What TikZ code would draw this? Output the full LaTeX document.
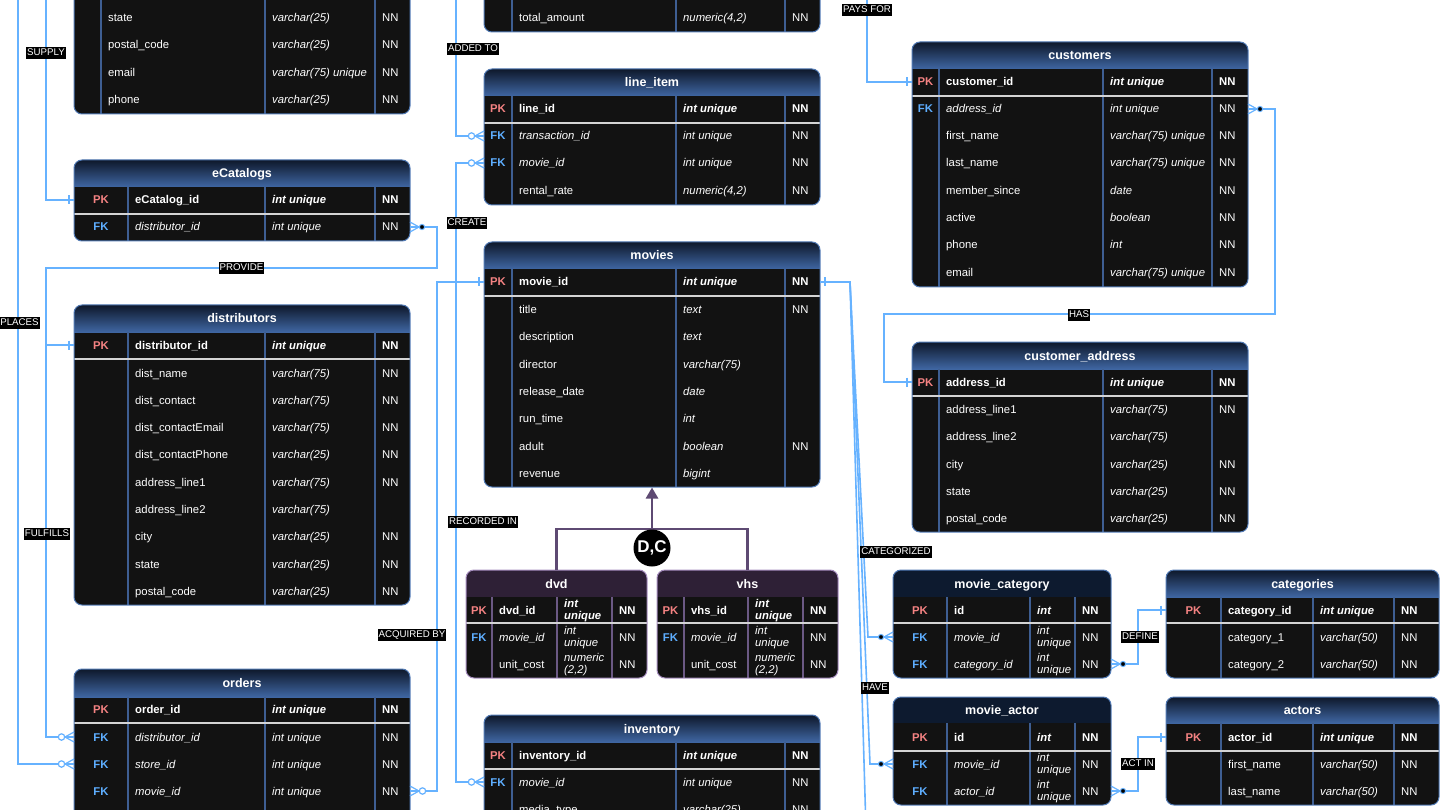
\documentclass[tikz,border=0pt]{standalone}
\usepackage{fontspec}
\setmainfont{Liberation Sans}
\usetikzlibrary{fit,arrows.meta}
\definecolor{connblue}{HTML}{66B2FF}
\definecolor{bodyfill}{HTML}{121212}
\definecolor{bordblue}{HTML}{5079B4}
\definecolor{divblue}{HTML}{3E5E92}
\definecolor{hdrtop}{HTML}{0E182B}
\definecolor{hdrbot}{HTML}{3F66A2}
\definecolor{navyhdr}{HTML}{0D1A2F}
\definecolor{purphdr}{HTML}{2E2036}
\definecolor{bordpurp}{HTML}{A58CBE}
\definecolor{divpurp}{HTML}{6B5984}
\definecolor{pkred}{HTML}{F48282}
\definecolor{fkblue}{HTML}{5EAEFF}
\definecolor{purpline}{HTML}{5E4A73}
\definecolor{sepgray}{HTML}{D4D4D4}

\newcommand\cellfont{\fontsize{11.3}{13}\selectfont}
\newcommand\two[2]{\smash{\renewcommand\arraystretch{0.85}\begin{tabular}[c]{@{}l@{}}#1\\#2\end{tabular}}}

\newcommand\ertable[8]{%
  \begin{scope}
    \clip[rounded corners=8pt] (#2,#3) rectangle (#4,#5);
    \fill[bodyfill] (#2,#3) rectangle (#4,#5);
    \path[hdr] (#2,#3) rectangle (#4,#6);
    \draw[divl] (\dA,#6) -- (\dA,#5) (\dB,#6) -- (\dB,#5) (\dC,#6) -- (\dC,#5);
    \draw[sepl] (#2,#7) -- (#4,#7);
  \end{scope}
  \node[fit={(#2,#3) (#4,#5)}, inner sep=0pt, bord, rounded corners=8pt] (#1) {};
  \node[ttl] (#1-title) at ({(#2+#4)/2},{(#3+#6)/2}) {#8};
  \gdef\tL{#2}\gdef\tR{#4}%
}
\newcommand\pkrow[6]{%
  \coordinate (#1-#2-L) at (\tL,#3);
  \coordinate (#1-#2-R) at (\tR,#3);
  \node[keycell, text=pkred] (#1-#2-k) at ({(\tL+\dA)/2},#3) {PK};
  \node[cell, font=\cellfont\bfseries] (#1-#2-n) at ({\dA+7},#3) {#4};
  \node[cell, font=\cellfont\bfseries\itshape] (#1-#2-t) at ({\dB+7},#3) {#5};
  \node[cell, font=\cellfont\bfseries] (#1-#2-c) at ({\dC+7},#3) {#6};
}
\newcommand\fkrow[6]{%
  \coordinate (#1-#2-L) at (\tL,#3);
  \coordinate (#1-#2-R) at (\tR,#3);
  \node[keycell, text=fkblue] (#1-#2-k) at ({(\tL+\dA)/2},#3) {FK};
  \node[cell, font=\cellfont\itshape] (#1-#2-n) at ({\dA+7},#3) {#4};
  \node[cell, font=\cellfont\itshape] (#1-#2-t) at ({\dB+7},#3) {#5};
  \node[cell] (#1-#2-c) at ({\dC+7},#3) {#6};
}
\newcommand\plrow[6]{%
  \coordinate (#1-#2-L) at (\tL,#3);
  \coordinate (#1-#2-R) at (\tR,#3);
  \node[cell] (#1-#2-n) at ({\dA+7},#3) {#4};
  \node[cell, font=\cellfont\itshape] (#1-#2-t) at ({\dB+7},#3) {#5};
  \node[cell] (#1-#2-c) at ({\dC+7},#3) {#6};
}
\newcommand\markone[2]{%
  \begin{scope}[shift={(#1)}, xscale=#2]
    \draw[conn, line width=1.2pt] (-5,-4.5) -- (-5,4.5);
  \end{scope}}
\newcommand\markzm[2]{%
  \begin{scope}[shift={(#1)}, xscale=#2]
    \draw[conn, line width=1.2pt] (0,-5) -- (-9,0) -- (0,5);
    \draw[conn, line width=1.2pt, fill=white] (-12.5,0) circle[radius=3.2];
  \end{scope}}
\newcommand\markdm[2]{%
  \begin{scope}[shift={(#1)}, xscale=#2]
    \draw[conn, line width=1.2pt] (0,-5) -- (-9,0) -- (0,5);
    \draw[conn, line width=1pt, fill=black] (-12,0) circle[radius=2.6];
  \end{scope}}

\tikzset{
  conn/.style={draw=connblue, line width=1.6pt},
  lbl/.style={fill=black, text=white, font=\fontsize{9.7}{10}\selectfont, inner xsep=1pt, inner ysep=1.5pt, text height=7pt, text depth=2pt},
  cell/.style={anchor=west, inner sep=0pt, text=white, text height=8pt, text depth=0pt, font=\cellfont},
  keycell/.style={inner sep=0pt, text height=8pt, text depth=0pt, font=\cellfont\bfseries},
  ttl/.style={text=white, font=\fontsize{12.5}{14}\selectfont\bfseries, inner sep=0pt, text height=9pt, text depth=0pt},
  hdr/.style={top color=hdrtop, bottom color=hdrbot},
  bord/.style={draw=bordblue, line width=1pt},
  divl/.style={draw=divblue, line width=1.1pt},
  sepl/.style={draw=sepgray, line width=1.2pt},
}

\begin{document}
\begin{tikzpicture}[x=1pt, y=-1pt]
\useasboundingbox (0,0) rectangle (1440,810);
\fill[white] (0,0) rectangle (1440,810);
\begin{scope}
\clip (0,0) rectangle (1440,810);

% ---------- blue tables ----------
\def\dA{101}\def\dB{265}\def\dC{375}
\ertable{stores}{74}{-80}{410}{114}{-53}{-23}{}
\plrow{sto}{state}{18}{state}{varchar(25)}{NN}
\plrow{sto}{postal}{45}{postal\_code}{varchar(25)}{NN}
\plrow{sto}{email}{73}{email}{varchar(75) unique}{NN}
\plrow{sto}{phone}{100}{phone}{varchar(25)}{NN}

\def\dA{128}\def\dB{265}\def\dC{375}
\ertable{ecat}{74}{160}{410}{241}{187}{214}{eCatalogs}
\pkrow{ecat}{pk}{200}{eCatalog\_id}{int unique}{NN}
\fkrow{ecat}{dist}{227}{distributor\_id}{int unique}{NN}

\ertable{dist}{74}{305}{410}{605}{332}{359}{distributors}
\pkrow{dist}{pk}{345}{distributor\_id}{int unique}{NN}
\plrow{dist}{r1}{373}{dist\_name}{varchar(75)}{NN}
\plrow{dist}{r2}{400}{dist\_contact}{varchar(75)}{NN}
\plrow{dist}{r3}{427}{dist\_contactEmail}{varchar(75)}{NN}
\plrow{dist}{r4}{454}{dist\_contactPhone}{varchar(25)}{NN}
\plrow{dist}{r5}{482}{address\_line1}{varchar(75)}{NN}
\plrow{dist}{r6}{509}{address\_line2}{varchar(75)}{}
\plrow{dist}{r7}{536}{city}{varchar(25)}{NN}
\plrow{dist}{r8}{564}{state}{varchar(25)}{NN}
\plrow{dist}{r9}{591}{postal\_code}{varchar(25)}{NN}

\ertable{orders}{74}{669}{410}{880}{697}{723}{orders}
\pkrow{ord}{pk}{709}{order\_id}{int unique}{NN}
\fkrow{ord}{dist}{737}{distributor\_id}{int unique}{NN}
\fkrow{ord}{store}{764}{store\_id}{int unique}{NN}
\fkrow{ord}{movie}{791}{movie\_id}{int unique}{NN}

\def\dA{512}\def\dB{676}\def\dC{785}
\ertable{trans}{484}{-80}{820}{32}{-53}{-23}{}
\plrow{trans}{total}{18}{total\_amount}{numeric(4,2)}{NN}

\ertable{lineitem}{484}{69}{820}{205}{96}{123}{line\_item}
\pkrow{li}{pk}{109}{line\_id}{int unique}{NN}
\fkrow{li}{trans}{136}{transaction\_id}{int unique}{NN}
\fkrow{li}{movie}{163}{movie\_id}{int unique}{NN}
\plrow{li}{rate}{191}{rental\_rate}{numeric(4,2)}{NN}

\ertable{movies}{484}{242}{820}{487}{269}{296}{movies}
\pkrow{mov}{pk}{282}{movie\_id}{int unique}{NN}
\plrow{mov}{r1}{309}{title}{text}{NN}
\plrow{mov}{r2}{336}{description}{text}{}
\plrow{mov}{r3}{364}{director}{varchar(75)}{}
\plrow{mov}{r4}{391}{release\_date}{date}{}
\plrow{mov}{r5}{418}{run\_time}{int}{}
\plrow{mov}{r6}{446}{adult}{boolean}{NN}
\plrow{mov}{r7}{473}{revenue}{bigint}{}

\ertable{inventory}{484}{715}{820}{880}{742}{769}{inventory}
\pkrow{inv}{pk}{755}{inventory\_id}{int unique}{NN}
\fkrow{inv}{movie}{782}{movie\_id}{int unique}{NN}
\plrow{inv}{media}{809}{media\_type}{varchar(25)}{NN}

\def\dA{939}\def\dB{1103}\def\dC{1212}
\ertable{customers}{912}{42}{1248}{287}{69}{96}{customers}
\pkrow{cust}{pk}{82}{customer\_id}{int unique}{NN}
\fkrow{cust}{addr}{109}{address\_id}{int unique}{NN}
\plrow{cust}{r1}{136}{first\_name}{varchar(75) unique}{NN}
\plrow{cust}{r2}{163}{last\_name}{varchar(75) unique}{NN}
\plrow{cust}{r3}{191}{member\_since}{date}{NN}
\plrow{cust}{r4}{218}{active}{boolean}{NN}
\plrow{cust}{r5}{245}{phone}{int}{NN}
\plrow{cust}{r6}{273}{email}{varchar(75) unique}{NN}

\ertable{custaddr}{912}{342}{1248}{532}{369}{396}{customer\_address}
\pkrow{ca}{pk}{382}{address\_id}{int unique}{NN}
\plrow{ca}{r1}{409}{address\_line1}{varchar(75)}{NN}
\plrow{ca}{r2}{436}{address\_line2}{varchar(75)}{}
\plrow{ca}{r3}{464}{city}{varchar(25)}{NN}
\plrow{ca}{r4}{491}{state}{varchar(25)}{NN}
\plrow{ca}{r5}{518}{postal\_code}{varchar(25)}{NN}

\def\dA{1221}\def\dB{1313}\def\dC{1394}
\ertable{categories}{1166}{570}{1439}{678}{597}{623}{categories}
\pkrow{cat}{pk}{610}{category\_id}{int unique}{NN}
\plrow{cat}{r1}{637}{category\_1}{varchar(50)}{NN}
\plrow{cat}{r2}{664}{category\_2}{varchar(50)}{NN}

\ertable{actors}{1166}{697}{1439}{805}{723}{751}{actors}
\pkrow{act}{pk}{737}{actor\_id}{int unique}{NN}
\plrow{act}{r1}{764}{first\_name}{varchar(50)}{NN}
\plrow{act}{r2}{791}{last\_name}{varchar(50)}{NN}

% ---------- navy-header tables ----------
\tikzset{hdr/.style={fill=navyhdr}}
\def\dA{947}\def\dB{1030}\def\dC{1075}
\ertable{moviecat}{893}{570}{1111}{678}{597}{623}{movie\_category}
\pkrow{mc}{pk}{610}{id}{int}{NN}
\fkrow{mc}{movie}{637}{movie\_id}{\two{int}{unique}}{NN}
\fkrow{mc}{cat}{664}{category\_id}{\two{int}{unique}}{NN}

\ertable{movieact}{893}{697}{1111}{805}{723}{751}{movie\_actor}
\pkrow{ma}{pk}{737}{id}{int}{NN}
\fkrow{ma}{movie}{764}{movie\_id}{\two{int}{unique}}{NN}
\fkrow{ma}{actor}{791}{actor\_id}{\two{int}{unique}}{NN}

% ---------- purple tables ----------
\tikzset{hdr/.style={fill=purphdr}, bord/.style={draw=bordpurp, line width=1pt}, divl/.style={draw=divpurp, line width=1.1pt}}
\def\dA{492}\def\dB{557}\def\dC{612}
\ertable{dvd}{466}{570}{647}{678}{597}{623}{dvd}
\pkrow{dvd}{pk}{610}{dvd\_id}{\two{int}{unique}}{NN}
\fkrow{dvd}{movie}{637}{movie\_id}{\two{int}{unique}}{NN}
\plrow{dvd}{cost}{664}{unit\_cost}{\two{numeric}{(2,2)}}{NN}

\def\dA{684}\def\dB{748}\def\dC{803}
\ertable{vhs}{657}{570}{838}{678}{597}{623}{vhs}
\pkrow{vhs}{pk}{610}{vhs\_id}{\two{int}{unique}}{NN}
\fkrow{vhs}{movie}{637}{movie\_id}{\two{int}{unique}}{NN}
\plrow{vhs}{cost}{664}{unit\_cost}{\two{numeric}{(2,2)}}{NN}

% ---------- specialisation ----------
\coordinate (dcj) at (652,529);
\draw[purpline, line width=2.6pt] (dvd.north) |- (dcj) -| (vhs.north);
\draw[purpline, line width=2.6pt, -{Triangle[width=12pt,length=11pt]}] (dcj) -- (movies.south);
\node[circle, fill=black, minimum size=37pt, inner sep=0pt, text=white, font=\fontsize{17}{17}\selectfont\bfseries] (dc) at (652,548) {D,C};

% ---------- connectors ----------
\coordinate (supTop) at (46,-10);
\coordinate (plTop) at (18,-10);
\coordinate (addTop) at (456,-10);
\coordinate (payTop) at (867,-10);
\coordinate (movOff) at (866,830);

% SUPPLY
\draw[conn] (supTop) |- (ecat-pk-L);
\markone{ecat-pk-L}{1}
% PLACES
\draw[conn] (plTop) |- (ord-store-L);
\markzm{ord-store-L}{1}
% PROVIDE
\draw[conn] (ecat-dist-R) -- (437,227) -- (437,268) -- (46,268) |- (dist-pk-L);
\markdm{ecat-dist-R}{-1}
\markone{dist-pk-L}{1}
% FULFILLS
\draw[conn] (ord-dist-L) -| (46,345) -- (dist-pk-L);
\markzm{ord-dist-L}{1}
% ACQUIRED BY
\draw[conn] (ord-movie-R) -| (437,282) -- (mov-pk-L);
\markzm{ord-movie-R}{-1}
% ADDED TO
\draw[conn] (addTop) |- (li-trans-L);
\markzm{li-trans-L}{1}
% CREATE
\draw[conn] (li-movie-L) -| (456,282) -- (mov-pk-L);
\markzm{li-movie-L}{1}
% RECORDED IN
\draw[conn] (inv-movie-L) -| (456,282) -- (mov-pk-L);
\markzm{inv-movie-L}{1}
\markone{mov-pk-L}{1}
% PAYS FOR
\draw[conn] (payTop) |- (cust-pk-L);
\markone{cust-pk-L}{1}
% HAS
\draw[conn] (cust-addr-R) -- (1275,109) -- (1275,314) -- (884,314) |- (ca-pk-L);
\markdm{cust-addr-R}{-1}
\markone{ca-pk-L}{1}
% CATEGORIZED / HAVE / off-canvas
\draw[conn] (mov-pk-R) -- (850,282) -- (868,637) -- (mc-movie-L);
\draw[conn] (mov-pk-R) -- (850,282) -- (870,764) -- (ma-movie-L);
\draw[conn] (mov-pk-R) -- (850,282) -- (movOff);
\markone{mov-pk-R}{-1}
\markdm{mc-movie-L}{1}
\markdm{ma-movie-L}{1}
% DEFINE
\draw[conn] (mc-cat-R) -- (1138,664) |- (cat-pk-L);
\markdm{mc-cat-R}{-1}
\markone{cat-pk-L}{1}
% ACT IN
\draw[conn] (ma-actor-R) -- (1138,791) |- (act-pk-L);
\markdm{ma-actor-R}{-1}
\markone{act-pk-L}{1}

% ---------- labels ----------
\node[lbl] (l-supply) at (46,53) {SUPPLY};
\node[lbl] (l-places) at (19.5,323) {PLACES};
\node[lbl] (l-provide) at (241.5,268.5) {PROVIDE};
\node[lbl] (l-fulfills) at (47,534) {FULFILLS};
\node[lbl] (l-acq) at (412,635) {ACQUIRED BY};
\node[lbl] (l-added) at (473,49) {ADDED TO};
\node[lbl] (l-create) at (467,223) {CREATE};
\node[lbl] (l-rec) at (483,521.5) {RECORDED IN};
\node[lbl] (l-pays) at (867,10) {PAYS FOR};
\node[lbl] (l-has) at (1079,315) {HAS};
\node[lbl] (l-cat) at (896,552) {CATEGORIZED};
\node[lbl] (l-have) at (875,688) {HAVE};
\node[lbl] (l-def) at (1140,637) {DEFINE};
\node[lbl] (l-act) at (1138,764) {ACT IN};
\end{scope}
\end{tikzpicture}
\end{document}
